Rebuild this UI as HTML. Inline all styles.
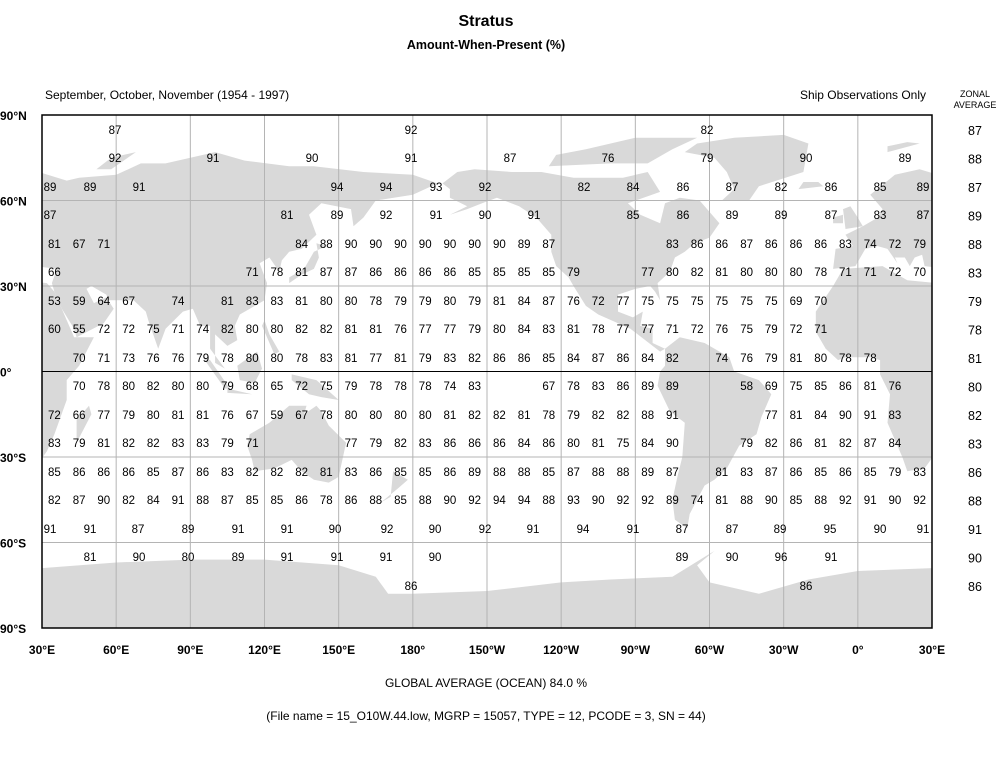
<!DOCTYPE html>
<html><head><meta charset="utf-8"><style>
html,body{margin:0;padding:0;background:#fff;}
svg{display:block;font-family:"Liberation Sans",Arial,sans-serif;}
</style></head><body>
<svg id="s" width="998" height="760" xmlns="http://www.w3.org/2000/svg">
<defs><clipPath id="cp"><rect x="42" y="115" width="890" height="513"/></clipPath></defs>
<rect width="998" height="760" fill="#fff"/>
<g id="land" clip-path="url(#cp)" fill="#d9d9d9"></g>
<g id="grid" stroke="#b4b4b4" stroke-width="1"></g>
<line x1="42" y1="371.5" x2="932" y2="371.5" stroke="#000" stroke-width="1"/>
<rect x="42" y="115" width="890" height="513" fill="none" stroke="#000" stroke-width="1.5"/>
<g id="nums" font-size="11.5" fill="#000" text-anchor="middle"></g>
<g font-size="12" fill="#000">
<text x="486" y="26" font-size="16" font-weight="bold" text-anchor="middle">Stratus</text>
<text x="486" y="49" font-size="12.5" font-weight="bold" text-anchor="middle">Amount-When-Present (%)</text>
<text x="45" y="99">September, October, November (1954 - 1997)</text>
<text x="926" y="99" text-anchor="end">Ship Observations Only</text>
<text x="975" y="97" font-size="9" text-anchor="middle">ZONAL</text>
<text x="975" y="108" font-size="9" text-anchor="middle">AVERAGE</text>
<text x="486" y="687" text-anchor="middle">GLOBAL AVERAGE (OCEAN)   84.0 %</text>
<text x="486" y="720" text-anchor="middle">(File name = 15_O10W.44.low, MGRP = 15057, TYPE = 12, PCODE = 3, SN = 44)</text>
</g>
<g id="axl" font-size="12" fill="#000"></g>
</svg>
<script>
var NS="http://www.w3.org/2000/svg";
function el(p,t,a,txt){var e=document.createElementNS(NS,t);for(var k in a)e.setAttribute(k,a[k]);if(txt!==undefined)e.textContent=txt;document.getElementById(p).appendChild(e);return e;}
function X(l){return 42+(l-30)*890/360;}
function Y(l){return 115+(90-l)*513/180;}
var polys=[
[[-17,21],[-10,30],[-6,36],[10,37],[20,32],[32,31],[35,28],[43,12],[51,12],[45,2],[40,-3],[40,-10],[35,-22],[32,-28],[27,-34],[20,-35],[18,-30],[12,-18],[13,-8],[9,-1],[9,4],[5,5],[-5,5],[-8,4],[-13,8],[-17,14]],
[[-10,36],[-9,43],[-2,44],[-5,48],[2,51],[8,54],[10,57],[5,62],[15,69],[25,71],[40,67],[45,68],[60,69],[70,73],[80,73],[100,77],[112,74],[130,72],[140,72],[160,70],[180,69],[190,66],[180,62],[165,60],[160,54],[156,51],[155,57],[143,59],[138,55],[141,48],[135,43],[130,42],[127,39],[126,35],[122,40],[118,38],[121,31],[120,25],[110,20],[108,16],[109,11],[105,9],[100,13],[100,3],[104,1],[98,8],[98,16],[94,16],[91,22],[87,21],[80,15],[77,8],[73,18],[72,21],[67,25],[57,25],[56,27],[50,30],[48,29],[51,24],[56,26],[59,22],[55,17],[44,12],[43,15],[38,22],[35,28],[34,31],[36,36],[27,37],[26,41],[23,40],[21,37],[19,40],[15,40],[16,38],[12,43],[8,44],[3,43],[-1,37]],
[[-168,66],[-162,70],[-155,71],[-140,70],[-128,70],[-115,68],[-95,68],[-85,70],[-80,63],[-93,59],[-88,55],[-80,52],[-78,59],[-72,61],[-64,60],[-56,52],[-60,47],[-66,45],[-70,42],[-74,40],[-76,35],[-81,31],[-80,25],[-82,28],[-84,30],[-90,29],[-97,27],[-97,21],[-91,19],[-87,21],[-88,16],[-83,15],[-83,10],[-78,8],[-80,7],[-86,11],[-92,15],[-105,20],[-110,23],[-115,30],[-117,33],[-122,37],[-124,42],[-124,48],[-130,54],[-137,58],[-146,61],[-152,59],[-158,57],[-165,55],[-158,58],[-165,61],[-165,64]],
[[-125,72],[-100,73],[-85,73],[-75,78],[-65,82],[-90,82],[-110,78],[-122,76]],
[[-55,60],[-44,60],[-40,65],[-22,70],[-20,80],[-30,83],[-50,82],[-65,80],[-70,77],[-58,75],[-53,70],[-50,64]],
[[-78,8],[-72,12],[-62,10],[-52,5],[-50,0],[-40,-3],[-35,-8],[-39,-16],[-41,-22],[-48,-26],[-53,-34],[-58,-38],[-62,-40],[-65,-45],[-68,-50],[-69,-55],[-74,-52],[-75,-45],[-73,-37],[-71,-30],[-70,-18],[-76,-14],[-81,-5],[-80,0],[-78,2]],
[[114,-22],[122,-18],[130,-12],[137,-12],[136,-15],[141,-12],[143,-14],[146,-19],[153,-25],[151,-33],[150,-37],[146,-39],[140,-38],[135,-35],[131,-31],[124,-34],[116,-35],[115,-31],[113,-26]],
[[95,5],[98,4],[106,-6],[104,-6]],[[109,2],[117,7],[119,1],[116,-4],[110,-3]],
[[131,-1],[141,-3],[150,-10],[143,-9],[138,-8],[131,-3]],[[105,-6],[115,-8],[105,-7.5]],
[[120,18],[122,13],[126,7],[124,6],[121,12],[119,16]],
[[130,31],[135,34],[140,36],[142,40],[141,45],[145,44],[140,42],[136,36],[130,33]],
[[-5,50],[2,51],[0,54],[-3,58],[-6,57]],[[-10,52],[-6,52],[-6,55],[-10,54]],
[[-24,64],[-14,65],[-16,66.5],[-22,66.5]],
[[44,-25],[50,-15],[49,-12],[44,-17]],
[[172,-35],[178,-38],[174,-41],[167,-46],[171,-44]],
[[52,71],[58,75],[68,77],[58,71]],[[12,77],[25,80],[20,80.5],[12,79]],
[[-180,-78],[-150,-77],[-120,-74],[-100,-73],[-75,-72],[-60,-64],[-58,-63],[-65,-68],[-60,-74],[-40,-78],[-20,-73],[0,-70],[30,-69],[60,-67],[90,-66],[120,-66],[150,-68],[165,-72],[170,-78],[180,-78],[180,-90],[-180,-90]]
];
polys.forEach(function(p){[-360,0,360].forEach(function(o){
 el("land","polygon",{points:p.map(function(q){return X(q[0]+o).toFixed(1)+","+Y(q[1]).toFixed(1);}).join(" ")});
});});
for(var i=1;i<12;i++){var x=42+i*890/12;el("grid","line",{x1:x,y1:115,x2:x,y2:628});}
for(var j=1;j<6;j++){var y=115+j*513/6;el("grid","line",{x1:42,y1:y,x2:932,y2:y});}
var rows=[
"81 67 71 . . . . . . . 84 88 90 90 90 90 90 90 90 89 87 . . . . 83 86 86 87 86 86 86 83 74 72 79",
"66 . . . . . . . 71 78 81 87 87 86 86 86 86 85 85 85 85 79 . . 77 80 82 81 80 80 80 78 71 71 72 70",
"53 59 64 67 . 74 . 81 83 83 81 80 80 78 79 79 80 79 81 84 87 76 72 77 75 75 75 75 75 75 69 70 . . . .",
"60 55 72 72 75 71 74 82 80 80 82 82 81 81 76 77 77 79 80 84 83 81 78 77 77 71 72 76 75 79 72 71 . . . .",
". 70 71 73 76 76 79 78 80 80 78 83 81 77 81 79 83 82 86 86 85 84 87 86 84 82 . 74 76 79 81 80 78 78 . .",
". 70 78 80 82 80 80 79 68 65 72 75 79 78 78 78 74 83 . . 67 78 83 86 89 89 . . 58 69 75 85 86 81 76 .",
"72 66 77 79 80 81 81 76 67 59 67 78 80 80 80 80 81 82 82 81 78 79 82 82 88 91 . . . 77 81 84 90 91 83 .",
"83 79 81 82 82 83 83 79 71 . . . 77 79 82 83 86 86 86 84 86 80 81 75 84 90 . . 79 82 86 81 82 87 84 .",
"85 86 86 86 85 87 86 83 82 82 82 81 83 86 85 85 86 89 88 88 85 87 88 88 89 87 . 81 83 87 86 85 86 85 79 83",
"82 87 90 82 84 91 88 87 85 85 86 78 86 88 85 88 90 92 94 94 88 93 90 92 92 89 74 81 88 90 85 88 92 91 90 92"];
var rowY=[244,272,301,329,358,386,415,443,472,500];
rows.forEach(function(r,k){r.split(" ").forEach(function(v,i){if(v!==".")el("nums","text",{x:(54.4+24.72*i).toFixed(1),y:rowY[k]+4},v);});});
var abs=[
[130,[[87,115],[92,411],[82,707]]],
[158,[[92,115],[91,213],[90,312],[91,411],[87,510],[76,608],[79,707],[90,806],[89,905]]],
[187,[[89,50],[89,90],[91,139],[94,337],[94,386],[93,436],[92,485],[82,584],[84,633],[86,683],[87,732],[82,781],[86,831],[85,880],[89,923]]],
[215,[[87,50],[81,287],[89,337],[92,386],[91,436],[90,485],[91,534],[85,633],[86,683],[89,732],[89,781],[87,831],[83,880],[87,923]]],
[529,[[91,50],[91,90],[87,138],[89,188],[91,238],[91,287],[90,335],[92,387],[90,435],[92,485],[91,533],[94,583],[91,633],[87,682],[87,732],[89,780],[95,830],[90,880],[91,923]]],
[557,[[81,90],[90,139],[80,188],[89,238],[91,287],[91,337],[91,386],[90,435],[89,682],[90,732],[96,781],[91,831]]],
[586,[[86,411],[86,806]]]];
abs.forEach(function(r){r[1].forEach(function(p){el("nums","text",{x:p[1],y:r[0]+4},p[0]);});});
[87,88,87,89,88,83,79,78,81,80,82,83,86,88,91,90,86].forEach(function(v,k){el("nums","text",{x:975,y:130+28.5*k+5,"font-size":"12.5"},v);});
var lat=["90°N","60°N","30°N","0°","30°S","60°S","90°S"];
lat.forEach(function(t,k){el("axl","text",{x:0,y:115+k*85.5+5,"font-weight":"bold"},t);});
var lon=["30°E","60°E","90°E","120°E","150°E","180°","150°W","120°W","90°W","60°W","30°W","0°","30°E"];
lon.forEach(function(t,k){el("axl","text",{x:42+k*890/12,y:654,"text-anchor":"middle","font-weight":"bold"},t);});
</script>
</body></html>
